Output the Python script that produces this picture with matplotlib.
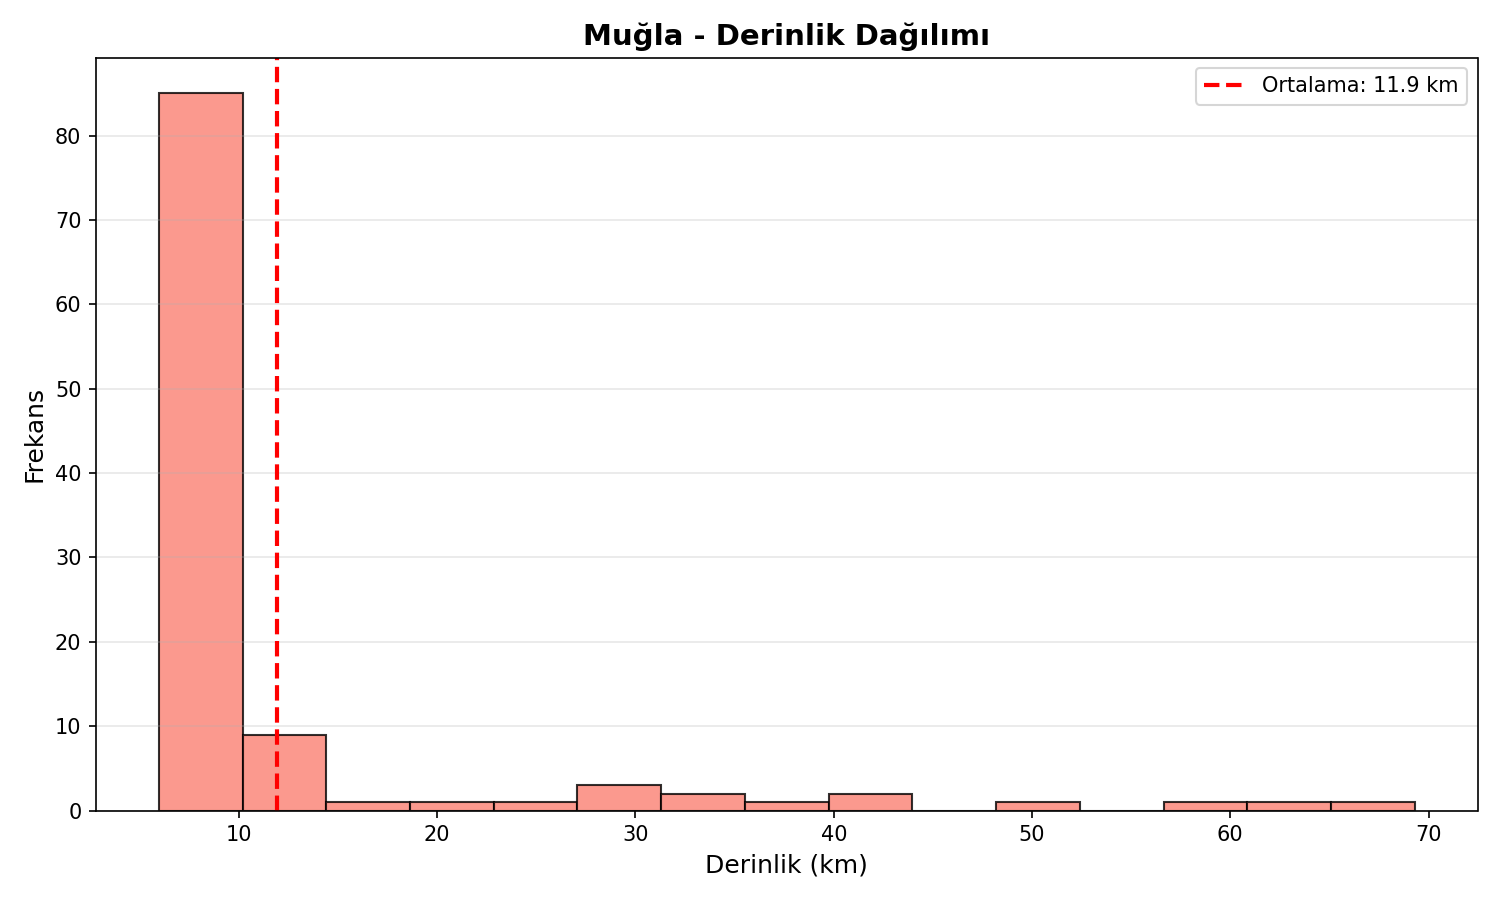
import matplotlib
matplotlib.use("Agg")
import matplotlib.pyplot as plt
import numpy as np

depth_min = 5.96
depth_max = 69.3
counts = [85, 9, 1, 1, 1, 3, 2, 1, 2, 0, 1, 0, 1, 1, 1]
mean_depth = 11.9

edges = np.linspace(depth_min, depth_max, len(counts) + 1)
centers = (edges[:-1] + edges[1:]) / 2

fig, ax = plt.subplots(figsize=(10, 6), dpi=150)
ax.hist(centers, bins=edges, weights=counts, color='salmon', alpha=0.8, edgecolor='black')
ax.axvline(mean_depth, color='red', linestyle='--', linewidth=2, label=f'Ortalama: {mean_depth:.1f} km')
ax.set_title('Muğla - Derinlik Dağılımı', fontsize=14, fontweight='bold')
ax.set_xlabel('Derinlik (km)', fontsize=12)
ax.set_ylabel('Frekans', fontsize=12)
ax.legend()
ax.grid(True, axis='y', alpha=0.3)
plt.tight_layout()
plt.savefig('out.png')
